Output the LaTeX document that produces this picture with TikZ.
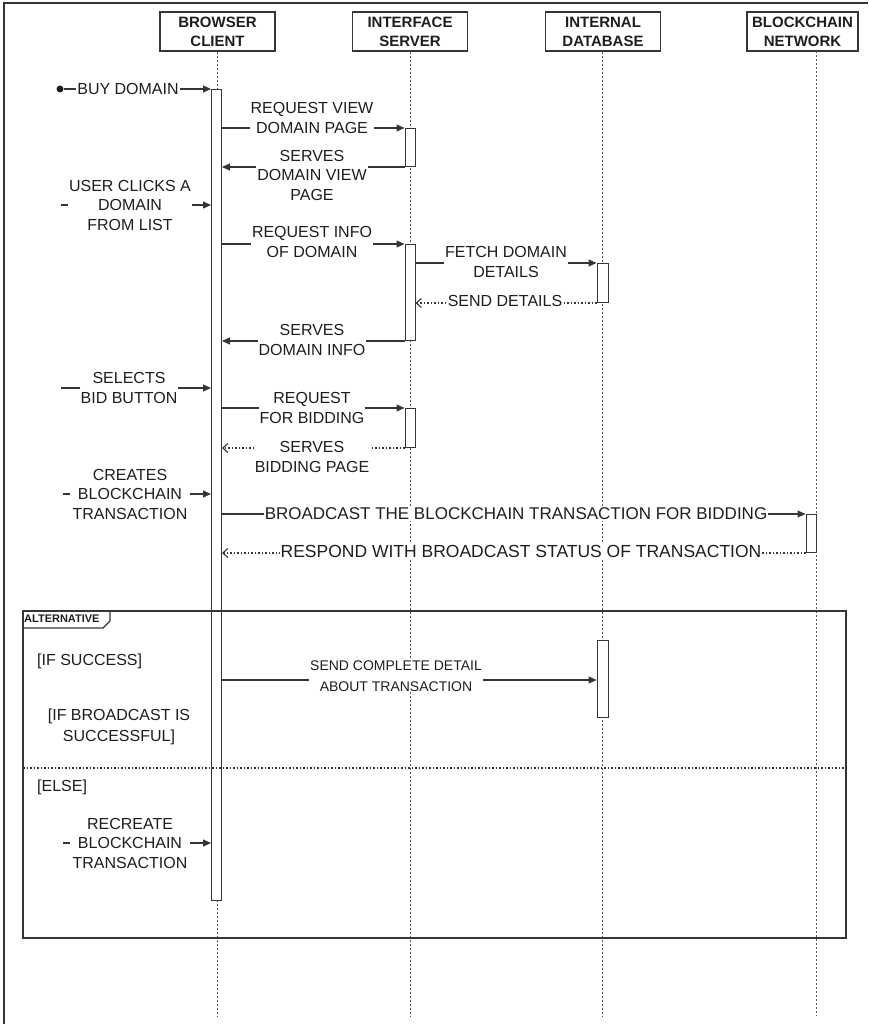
\documentclass[tikz,border=0pt]{standalone}
\usepackage{fontspec}
\setmainfont{Liberation Sans}
\usetikzlibrary{arrows.meta}
\definecolor{ink}{HTML}{1E1E1E}
\definecolor{rule}{HTML}{353535}
\tikzset{
  lbl/.style={fill=white, inner sep=1pt, align=center, text=ink,
    font=\fontsize{16}{19.5}\selectfont},
  guard/.style={inner sep=0pt, align=center, text=ink,
    font=\fontsize{16}{21}\selectfont},
  head/.style={draw=rule, line width=1.1pt, minimum width=115pt,
    minimum height=39pt, align=center, inner sep=0pt, text=ink,
    font=\bfseries\fontsize{15}{19}\selectfont},
  life/.style={draw=rule!85, line width=0.8pt, dash pattern=on 2pt off 2pt},
  actbar/.style={draw=rule, fill=white, line width=1pt,
    minimum width=10pt, inner sep=0pt, anchor=north},
  call/.style={draw=rule, line width=1.1pt,
    -{Triangle[length=8pt,width=7pt]}},
  reply/.style={draw=rule, line width=1.1pt, dash pattern=on 1.5pt off 2pt,
    -{Straight Barb[length=5pt,width=9pt]}},
  framebox/.style={draw=rule, line width=1.1pt}
}
\begin{document}
\begin{tikzpicture}[x=1pt,y=-1pt]
\useasboundingbox (0,0) rectangle (868,1024);
% page border
\draw[rule, line width=1.2pt] (4,1024) -- (4,3) -- (868,3);

% participants
\node[head] (hB) at (217.5,31.5) {BROWSER\\CLIENT};
\node[head] (hS) at (410,31.5) {INTERFACE\\SERVER};
\node[head] (hD) at (603,31.5) {INTERNAL\\DATABASE};
\node[head, minimum width=111pt] (hN) at (802.5,31.5) {BLOCKCHAIN\\NETWORK};

% lifelines
\coordinate (lB) at (217,1016);
\coordinate (lS) at (410,1016);
\coordinate (lD) at (602,1016);
\coordinate (tN) at (816,51);
\coordinate (lN) at (816,1016);
\draw[life] (hB.south -| lB) -- (lB);
\draw[life] (hS.south -| lS) -- (lS);
\draw[life] (hD.south -| lD) -- (lD);
\draw[life] (tN) -- (lN);

% activation bars
\node[actbar, minimum height=811pt] (actB) at (216.5,89) {};
\node[actbar, minimum height=38pt] (actS1) at (410,128) {};
\node[actbar, minimum height=96pt] (actS2) at (410,244) {};
\node[actbar, minimum height=39pt, minimum width=11pt] (actD1) at (602.5,263) {};
\node[actbar, minimum height=39pt] (actS3) at (410,408) {};
\node[actbar, minimum height=38pt] (actN) at (811,514) {};
\node[actbar, minimum height=77pt, minimum width=11pt] (actD2) at (602.5,640) {};

% found message
\node[circle, fill=ink, inner sep=0pt, minimum size=7pt] (start) at (60,89) {};
\draw[call] (start) -- (actB.north west);
\node[lbl] at (128,89) {BUY DOMAIN};

% view domain page
\draw[call] (actB.east |- actS1.north) -- (actS1.north west);
\node[lbl] at (312,118) {REQUEST VIEW\\DOMAIN PAGE};
\draw[call] (actS1.south west) -- (actB.east |- actS1.south);
\node[lbl] at (312,175) {SERVES\\DOMAIN VIEW\\PAGE};

% user picks a domain
\coordinate (u1) at (61,205);
\draw[call] (u1) -- (actB.west |- u1);
\node[lbl] at (130,205) {USER CLICKS A\\DOMAIN\\FROM LIST};

% domain info
\draw[call] (actB.east |- actS2.north) -- (actS2.north west);
\node[lbl] at (312,242) {REQUEST INFO\\OF DOMAIN};
\draw[call] (actS2.east |- actD1.north) -- (actD1.north west);
\node[lbl] at (506,262) {FETCH DOMAIN\\DETAILS};
\draw[reply] (actD1.south west) -- (actS2.east |- actD1.south);
\node[lbl] at (505,301) {SEND DETAILS};
\draw[call] (actS2.south west) -- (actB.east |- actS2.south);
\node[lbl] at (312,340) {SERVES\\DOMAIN INFO};

% bid button
\coordinate (u2) at (61,388);
\draw[call] (u2) -- (actB.west |- u2);
\node[lbl] at (129,388) {SELECTS\\BID BUTTON};
\draw[call] (actB.east |- actS3.north) -- (actS3.north west);
\node[lbl] at (312,408) {REQUEST\\FOR BIDDING};
\draw[reply] (actS3.south west) -- (actB.east |- actS3.south);
\node[lbl] at (312,457) {SERVES\\BIDDING PAGE};

% blockchain transaction
\coordinate (u3) at (63,494);
\draw[call] (u3) -- (actB.west |- u3);
\node[lbl, inner xsep=3pt] at (130,494) {CREATES\\BLOCKCHAIN\\TRANSACTION};
\draw[call] (actB.east |- actN.north) -- (actN.north west);
\node[lbl, font=\fontsize{17}{20}\selectfont] at (516,514)
  {BROADCAST THE BLOCKCHAIN TRANSACTION FOR BIDDING};
\draw[reply] (actN.south west) -- (actB.east |- actN.south);
\node[lbl, font=\fontsize{17.5}{20}\selectfont] at (521,551)
  {RESPOND WITH BROADCAST STATUS OF TRANSACTION};

% alternative fragment
\draw[framebox] (23,611) rectangle (846,938);
\draw[framebox] (23,628) -- (103,628) -- (110,621) -- (110,611);
\node[anchor=west, inner sep=0pt, text=ink, font=\bfseries\fontsize{11}{13}\selectfont]
  (altlbl) at (24,619) {ALTERNATIVE};
\draw[rule, line width=1.1pt, dash pattern=on 1.5pt off 2pt] (23,768) -- (846,768);

\node[guard, anchor=west] (g1) at (37,661) {[IF SUCCESS]};
\draw[call] (actB.east |- 0,680) -- (actD2.west |- 0,680);
\node[lbl, font=\fontsize{14}{21}\selectfont] at (396,676)
  {SEND COMPLETE DETAIL\\ABOUT TRANSACTION};
\node[guard] (g2) at (119,727) {[IF BROADCAST IS\\SUCCESSFUL]};

\node[guard, anchor=west] (g3) at (37,787) {[ELSE]};
\coordinate (u4) at (63,843);
\draw[call] (u4) -- (actB.west |- u4);
\node[lbl, inner xsep=3pt] at (130,843) {RECREATE\\BLOCKCHAIN\\TRANSACTION};
\end{tikzpicture}
\end{document}
